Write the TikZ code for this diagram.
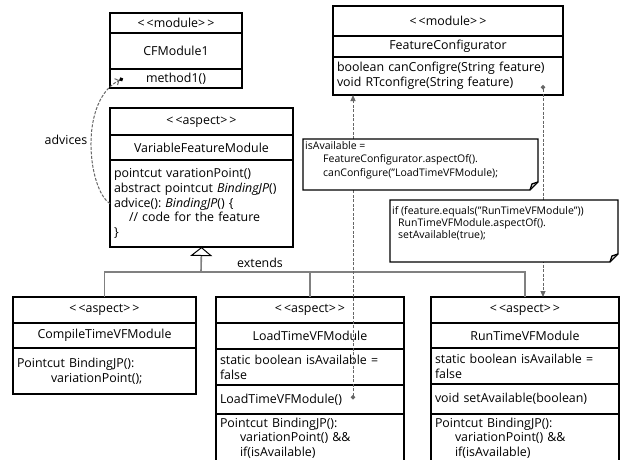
\documentclass[tikz,border=0pt]{standalone}
\usepackage{fontspec}
\setmainfont{Open Sans}
\usetikzlibrary{arrows.meta, positioning}
\frenchspacing

\begin{document}
\begin{tikzpicture}[
  x=1pt, y=-1pt,
  cell/.style = {rectangle, draw=black, line width=1.4pt, fill=white, minimum width=#1, inner xsep=4pt, inner ysep=0pt, outer sep=0pt, text centered, font=\fontsize{12.4}{14.7}\selectfont},
  memb/.style = {cell=#1, align=left, text width=#1-8pt},
  note/.style = {draw=none, fill=white, inner sep=0pt, outer sep=0pt},
  notetext/.style = {align=left, inner sep=0pt, font=\fontsize{10.5}{#1}\selectfont},
  dep/.style = {gray!80!black, line width=1pt, dash pattern=on 3pt off 1.5pt},
  gen/.style = {gray, line width=1.6pt},
  lbl/.style = {inner sep=0pt, font=\fontsize{12.4}{14.7}\selectfont}
]
\clip (0,0) rectangle (622,459);
\useasboundingbox (0,0) rectangle (622,459);
\fill[white] (0,0) rectangle (622,459);

% CFModule1
\node[cell=132pt, minimum height=20pt, anchor=north west] (cf1) at (110,13) {<\,<module>\,>};
\node[cell=132pt, minimum height=36pt, below=0pt of cf1] (cf2) {CFModule1};
\node[cell=132pt, minimum height=19pt, below=0pt of cf2] (cf3) {method1()};

% VariableFeatureModule
\node[cell=183pt, minimum height=27pt, anchor=north west] (vfm1) at (110,108) {<\,<aspect>\,>};
\node[cell=183pt, minimum height=25pt, below=0pt of vfm1] (vfm2) {VariableFeatureModule};
\node[memb=183pt, minimum height=87pt, below=0pt of vfm2] (vfm3) {pointcut varationPoint()\\abstract pointcut \textit{BindingJP}()\\advice(): \textit{BindingJP}() \{\\\hspace*{15pt}// code for the feature\\\}};

% FeatureConfigurator
\node[cell=230pt, minimum height=30pt, anchor=north west] (fc1) at (333,6) {<\,<module>\,>};
\node[cell=230pt, minimum height=21pt, below=0pt of fc1] (fc2) {FeatureConfigurator};
\node[memb=230pt, minimum height=38pt, below=0pt of fc2] (fc3) {boolean canConfigre(String feature)\\void RTconfigre(String feature)};

% CompileTimeVFModule
\node[cell=183pt, minimum height=26pt, anchor=north west] (ct1) at (13,297) {<\,<aspect>\,>};
\node[cell=183pt, minimum height=25pt, below=0pt of ct1] (ct2) {CompileTimeVFModule};
\node[memb=183pt, minimum height=46pt, below=0pt of ct2] (ct3) {Pointcut BindingJP():\\\hspace*{34pt}variationPoint();};

% LoadTimeVFModule
\node[cell=188pt, minimum height=26pt, anchor=north west] (lt1) at (216,297) {<\,<aspect>\,>};
\node[cell=188pt, minimum height=26pt, below=0pt of lt1] (lt2) {LoadTimeVFModule};
\node[memb=188pt, minimum height=36pt, below=0pt of lt2] (lt3) {static boolean isAvailable =\\false};
\node[memb=188pt, minimum height=29pt, below=0pt of lt3] (lt4) {LoadTimeVFModule()};
\node[memb=188pt, minimum height=48pt, below=0pt of lt4] (lt5) {Pointcut BindingJP():\\\hspace*{20pt}variationPoint() \&\&\\\hspace*{20pt}if(isAvailable)};

% RunTimeVFModule
\node[cell=188pt, minimum height=26pt, anchor=north west] (rt1) at (431,297) {<\,<aspect>\,>};
\node[cell=188pt, minimum height=25pt, below=0pt of rt1] (rt2) {RunTimeVFModule};
\node[memb=188pt, minimum height=36pt, below=0pt of rt2] (rt3) {static boolean isAvailable =\\false};
\node[memb=188pt, minimum height=30pt, below=0pt of rt3] (rt4) {void setAvailable(boolean)};
\node[memb=188pt, minimum height=48pt, below=0pt of rt4] (rt5) {Pointcut BindingJP():\\\hspace*{20pt}variationPoint() \&\&\\\hspace*{20pt}if(isAvailable)};

% extends
\coordinate (bar) at (201,272);
\draw[gen] (ct1.north) |- (bar) -| (rt1.north);
\draw[gen] (lt1.north) -- (lt1.north |- bar);
\draw[gen, -{Triangle[length=9pt, width=22pt, fill=white, color=black, line width=1pt]}] (bar) -- (vfm3.south);
\node[lbl] (extlbl) at (260,263) {extends};

% advices
\coordinate (advend) at ([xshift=13pt]cf3.west);
\draw[dep, -{Straight Barb[length=3pt, width=7pt]Circle[length=4pt, color=black]}] (vfm3.west) .. controls (88,190) and (78,100) .. (advend);
\node[lbl] (advlbl) at (66,140) {advices};

% aspectOf calls
\coordinate (ltdot) at ([xshift=-51pt]lt4.east);
\coordinate (fcdot) at ([shift={(-20pt,-9pt)}]fc3.east);
\draw[dep, {Circle[length=4.5pt]}-{Triangle[length=6pt, width=5pt]}] (ltdot) -- (ltdot |- fc3.south);
\draw[dep, {Circle[length=4.5pt]}-{Triangle[length=6pt, width=5pt]}] (fcdot) -- (fcdot |- rt1.north);

% notes
\node[note, minimum width=235pt, minimum height=51pt, anchor=north west] (nt1) at (303,139) {};
\draw[line width=1.3pt] (nt1.north west) -- (nt1.north east) -- ([yshift=8pt]nt1.south east) -- ([xshift=-8pt]nt1.south east) -- (nt1.south west) -- cycle;
\draw[line width=1.3pt] ([yshift=8pt]nt1.south east) -- ([shift={(-6pt,6pt)}]nt1.south east) -- ([xshift=-8pt]nt1.south east);
\node[notetext=13.5, anchor=north west] (nt1txt) at ([shift={(2pt,-2pt)}]nt1.north west) {isAvailable =\\\hspace*{18pt}FeatureConfigurator.aspectOf().\\\hspace*{18pt}canConfigure("LoadTimeVFModule);};

\node[note, minimum width=228pt, minimum height=62pt, anchor=north west] (nt2) at (390,200) {};
\draw[line width=1.3pt] (nt2.north west) -- (nt2.north east) -- ([yshift=8pt]nt2.south east) -- ([xshift=-8pt]nt2.south east) -- (nt2.south west) -- cycle;
\draw[line width=1.3pt] ([yshift=8pt]nt2.south east) -- ([shift={(-6pt,6pt)}]nt2.south east) -- ([xshift=-8pt]nt2.south east);
\node[notetext=12.2, anchor=north west] (nt2txt) at ([shift={(2pt,-6pt)}]nt2.north west) {if (feature.equals("RunTimeVFModule"))\\\hspace*{6pt}RunTimeVFModule.aspectOf().\\\hspace*{6pt}setAvailable(true);};

\end{tikzpicture}
\end{document}
